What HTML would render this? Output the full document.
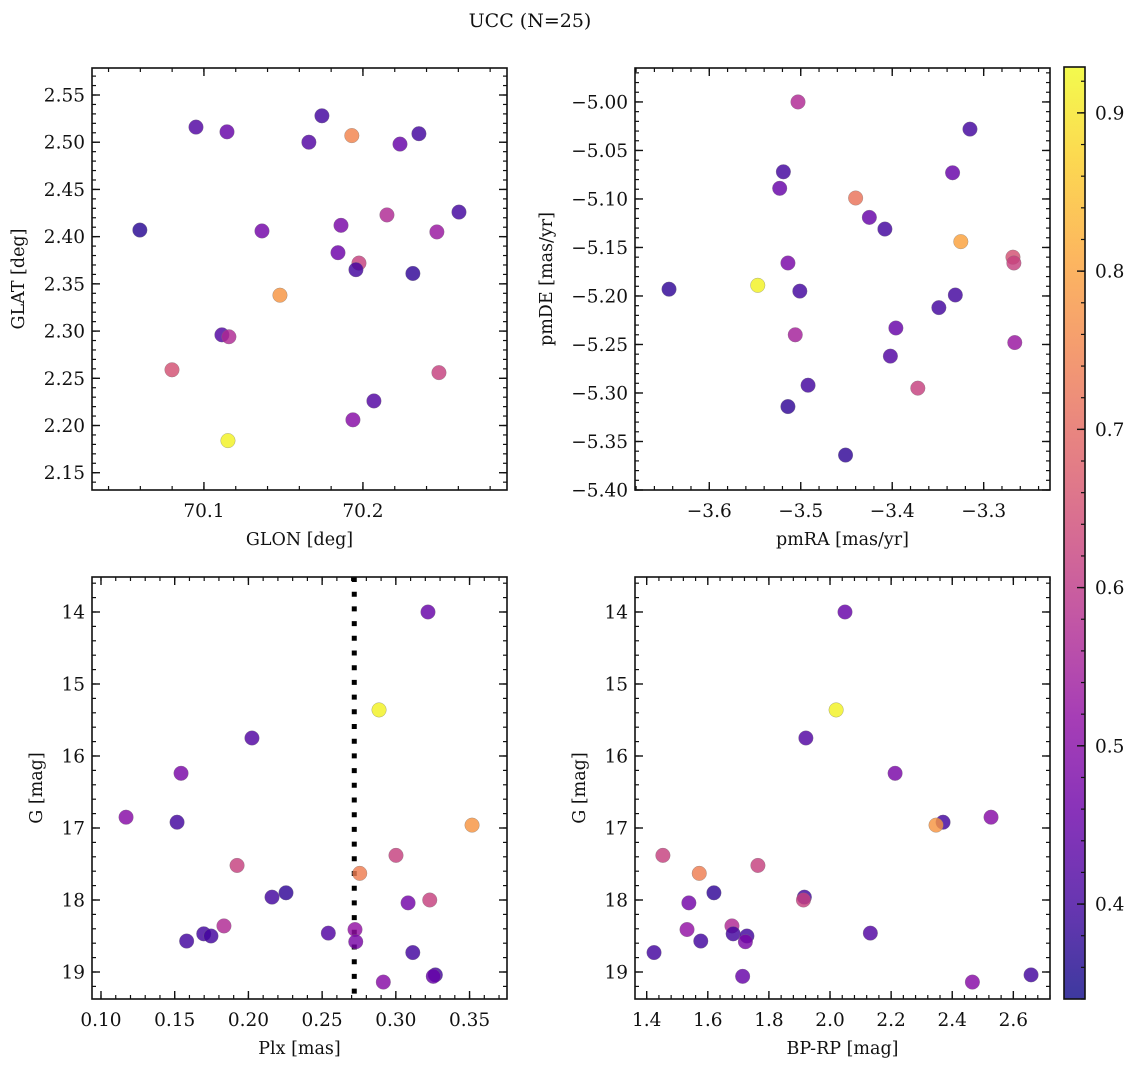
<!DOCTYPE html>
<html><head><meta charset="utf-8"><style>
html,body{margin:0;padding:0;background:#fff}
svg{display:block}
text{font-family:"DejaVu Serif","Liberation Serif",serif;fill:#111}
</style></head><body>
<svg id="fig" width="1136" height="1067" viewBox="0 0 1136 1067">
<text x="530" y="27" font-size="19" text-anchor="middle">UCC (N=25)</text>
</svg>
<script>
// ---- data ----
const glon = [70.0597,70.095,70.1145,70.1742,70.166,70.193,70.2233,70.2352,70.2604,70.2465,70.2151,70.1862,70.1365,70.1843,70.1975,70.1956,70.2314,70.1478,70.1113,70.1157,70.0799,70.2478,70.2069,70.1937,70.1151];
const glat = [2.407,2.516,2.511,2.528,2.500,2.507,2.498,2.509,2.426,2.405,2.423,2.412,2.406,2.383,2.372,2.365,2.361,2.338,2.296,2.294,2.259,2.256,2.226,2.206,2.184];
const posColor = [0.37,0.42,0.45,0.40,0.42,0.75,0.45,0.40,0.40,0.53,0.57,0.48,0.47,0.46,0.62,0.40,0.38,0.78,0.42,0.57,0.65,0.62,0.42,0.50,0.92];
const pmRA = [-3.503,-3.315,-3.519,-3.334,-3.523,-3.440,-3.425,-3.408,-3.325,-3.268,-3.267,-3.514,-3.644,-3.547,-3.501,-3.331,-3.349,-3.396,-3.506,-3.266,-3.402,-3.372,-3.492,-3.514,-3.451];
const pmDE = [-5.000,-5.028,-5.072,-5.073,-5.089,-5.099,-5.119,-5.131,-5.144,-5.160,-5.166,-5.166,-5.193,-5.189,-5.195,-5.199,-5.212,-5.233,-5.240,-5.248,-5.262,-5.295,-5.292,-5.314,-5.364];
const pmColor = [0.57,0.40,0.40,0.45,0.45,0.72,0.45,0.40,0.80,0.65,0.62,0.48,0.38,0.92,0.40,0.40,0.40,0.45,0.55,0.53,0.42,0.62,0.40,0.38,0.38];
const plx = [0.3218,0.2886,0.2024,0.1543,0.1170,0.1516,0.3517,0.1923,0.3001,0.2755,0.2255,0.2160,0.3083,0.3230,0.1834,0.1697,0.1746,0.1581,0.2542,0.2723,0.2728,0.3115,0.2915,0.3268,0.3254];
const gmag = [14.00,15.36,15.75,16.24,16.85,16.92,16.96,17.52,17.38,17.63,17.90,17.96,18.04,18.00,18.36,18.47,18.50,18.57,18.46,18.41,18.58,18.73,19.14,19.04,19.06];
const bprp = [2.049,2.020,1.921,2.213,2.527,2.370,2.347,1.764,1.453,1.572,1.620,1.916,1.538,1.913,1.679,1.683,1.728,1.577,2.132,1.532,1.723,1.424,2.466,2.658,1.714];
const photColor = [0.45,0.92,0.42,0.48,0.50,0.40,0.78,0.62,0.62,0.74,0.38,0.40,0.47,0.62,0.57,0.40,0.40,0.40,0.42,0.52,0.48,0.40,0.50,0.40,0.45];
const plxLine = [0.2718];
const glonTicks = [70.1,70.2];
const glatTicks = [2.15,2.20,2.25,2.30,2.35,2.40,2.45,2.50,2.55];
const pmraTicks = [-3.6,-3.5,-3.4,-3.3];
const pmdeTicks = [-5.00,-5.05,-5.10,-5.15,-5.20,-5.25,-5.30,-5.35,-5.40];
const plxTicks = [0.10,0.15,0.20,0.25,0.30,0.35];
const gTicks = [14,15,16,17,18,19];
const bprpTicks = [1.4,1.6,1.8,2.0,2.2,2.4,2.6];
const cbarTicks = [0.4,0.5,0.6,0.7,0.8,0.9];
const vmin = 0.34, vmax = 0.929;

const NS = "http://www.w3.org/2000/svg";
const svg = document.getElementById('fig');
function mk(tag, attrs, parent){
  const e = document.createElementNS(NS, tag);
  for (const k in attrs) e.setAttribute(k, attrs[k]);
  (parent||svg).appendChild(e);
  return e;
}
const stops = ["#0d0887","#41049d","#6a00a8","#8f0da4","#b12a90","#cc4778","#e16462","#f2844b","#fca636","#fcce25","#f0f921"];
function hex(h){return [parseInt(h.substr(1,2),16),parseInt(h.substr(3,2),16),parseInt(h.substr(5,2),16)];}
function plasma(t){
  t=Math.max(0,Math.min(1,t));
  const s=t*10, i=Math.min(9,Math.floor(s)), f=s-i;
  const a=hex(stops[i]), b=hex(stops[i+1]);
  return `rgb(${Math.round(a[0]+(b[0]-a[0])*f)},${Math.round(a[1]+(b[1]-a[1])*f)},${Math.round(a[2]+(b[2]-a[2])*f)})`;
}
function fmt(v,d){ const s=Math.abs(v).toFixed(d); return (v<0?"\u2212":"")+s; }
const TF = 18.5;

function panel(o){
  const g = mk('g',{});
  
  
  const X = v => o.x0 + (v-o.xmin)/(o.xmax-o.xmin)*(o.x1-o.x0);
  const Y = v => o.inv ? o.y0 + (v-o.ymin)/(o.ymax-o.ymin)*(o.y1-o.y0)
                       : o.y1 - (v-o.ymin)/(o.ymax-o.ymin)*(o.y1-o.y0);
  const eps=1e-9;
  for (let v=Math.ceil(o.xmin/o.xminor-eps)*o.xminor; v<=o.xmax+eps; v+=o.xminor){
    const px=X(v);
    mk('line',{x1:px,x2:px,y1:o.y1,y2:o.y1-4,stroke:'#111','stroke-width':1.2},g);
    mk('line',{x1:px,x2:px,y1:o.y0,y2:o.y0+4,stroke:'#111','stroke-width':1.2},g);
  }
  const ylo=Math.min(o.ymin,o.ymax), yhi=Math.max(o.ymin,o.ymax);
  for (let v=Math.ceil(ylo/o.yminor-eps)*o.yminor; v<=yhi+eps; v+=o.yminor){
    const py=Y(v);
    mk('line',{x1:o.x0,x2:o.x0+4,y1:py,y2:py,stroke:'#111','stroke-width':1.2},g);
    mk('line',{x1:o.x1,x2:o.x1-4,y1:py,y2:py,stroke:'#111','stroke-width':1.2},g);
  }
  o.xticks.forEach(v=>{
    const px=X(v);
    mk('line',{x1:px,x2:px,y1:o.y1,y2:o.y1-8,stroke:'#111','stroke-width':1.4},g);
    mk('line',{x1:px,x2:px,y1:o.y0,y2:o.y0+8,stroke:'#111','stroke-width':1.4},g);
    const t=mk('text',{x:px,y:o.y1+27,'font-size':TF,'text-anchor':'middle'},g);
    
    
    t.textContent=fmt(v,o.xd);
  });
  o.yticks.forEach(v=>{
    const py=Y(v);
    mk('line',{x1:o.x0,x2:o.x0+8,y1:py,y2:py,stroke:'#111','stroke-width':1.4},g);
    mk('line',{x1:o.x1,x2:o.x1-8,y1:py,y2:py,stroke:'#111','stroke-width':1.4},g);
    const t=mk('text',{x:o.x0-7,y:py+6.5,'font-size':TF,'text-anchor':'end'},g);
    
    
    t.textContent=fmt(v,o.yd);
  });
  if (o.vline){
    o.vline.forEach(v=>{
      const l=mk('line',{x1:X(v),x2:X(v),y1:o.y0,y2:o.y1,stroke:'#000','stroke-width':5,'stroke-dasharray':'5 9.7'},g);
      
      
    });
  }
  o.xs.forEach((xv,i)=>{
    const c=mk('circle',{cx:X(xv),cy:Y(o.ys[i]),r:7.3,fill:plasma((o.cs[i]-vmin)/(vmax-vmin)),'fill-opacity':0.82,stroke:'#777','stroke-width':0.5,'stroke-opacity':0.6},g);
    
    
  });
  const fr=mk('rect',{x:o.x0,y:o.y0,width:o.x1-o.x0,height:o.y1-o.y0,fill:'none',stroke:'#111','stroke-width':1.6},g);
  
  
  const xl=mk('text',{x:(o.x0+o.x1)/2,y:o.y1+55,'font-size':17.5,'text-anchor':'middle'},g);
  
  
  xl.textContent=o.xlabel;
  const cy=(o.y0+o.y1)/2;
  const yl=mk('text',{x:o.ylx,y:cy,'font-size':17.5,'text-anchor':'middle',transform:`rotate(-90 ${o.ylx} ${cy})`},g);
  
  
  yl.textContent=o.ylabel;
}

panel({name:'glon-glat-panel',x0:92,x1:507,y0:68,y1:490,xmin:70.0296,xmax:70.2906,ymin:2.1317,ymax:2.5786,
  xs:glon,ys:glat,cs:posColor,xticks:glonTicks,yticks:glatTicks,xminor:0.02,yminor:0.01,xd:1,yd:2,
  xlabel:'GLON [deg]',ylabel:'GLAT [deg]',ylx:24});
panel({name:'proper-motion-panel',x0:635,x1:1050,y0:68,y1:490,xmin:-3.6812,xmax:-3.2275,ymin:-5.40,ymax:-4.965,
  xs:pmRA,ys:pmDE,cs:pmColor,xticks:pmraTicks,yticks:pmdeTicks,xminor:0.02,yminor:0.01,xd:1,yd:2,
  xlabel:'pmRA [mas/yr]',ylabel:'pmDE [mas/yr]',ylx:552});
panel({name:'parallax-magnitude-panel',x0:92,x1:507,y0:577,y1:999,xmin:0.0939,xmax:0.3754,ymin:13.514,ymax:19.375,inv:true,
  xs:plx,ys:gmag,cs:photColor,xticks:plxTicks,yticks:gTicks,xminor:0.01,yminor:0.2,xd:2,yd:0,vline:plxLine,
  xlabel:'Plx [mas]',ylabel:'G [mag]',ylx:42});
panel({name:'color-magnitude-panel',x0:635,x1:1050,y0:577,y1:999,xmin:1.3617,xmax:2.720,ymin:13.514,ymax:19.375,inv:true,
  xs:bprp,ys:gmag,cs:photColor,xticks:bprpTicks,yticks:gTicks,xminor:0.04,yminor:0.2,xd:1,yd:0,
  xlabel:'BP-RP [mag]',ylabel:'G [mag]',ylx:585});

// colorbar
(function(){
  const x0=1064,x1=1085,y0=67,y1=999;
  const defs=mk('defs',{});
  const lg=mk('linearGradient',{id:'cg',x1:0,y1:1,x2:0,y2:0},defs);
  for(let i=0;i<=20;i++){ mk('stop',{offset:i/20,'stop-color':plasma(i/20),'stop-opacity':0.8},lg); }
  const g=mk('g',{});
  
  
  mk('rect',{x:x0,y:y0,width:x1-x0,height:y1-y0,fill:'url(#cg)'},g);
  const Y=v=>y1-(v-vmin)/(vmax-vmin)*(y1-y0);
  for(let v=0.34;v<=vmax+1e-9;v+=0.02){ const py=Y(v); mk('line',{x1:x1,x2:x1-4,y1:py,y2:py,stroke:'#111','stroke-width':1.2},g); }
  cbarTicks.forEach(v=>{
    const py=Y(v);
    mk('line',{x1:x1,x2:x1-8,y1:py,y2:py,stroke:'#111','stroke-width':1.4},g);
    const t=mk('text',{x:x1+10,y:py+6.5,'font-size':TF},g);
    
    
    t.textContent=v.toFixed(1);
  });
  mk('rect',{x:x0,y:y0,width:x1-x0,height:y1-y0,fill:'none',stroke:'#111','stroke-width':1.6},g);
})();
</script>
</body></html>
